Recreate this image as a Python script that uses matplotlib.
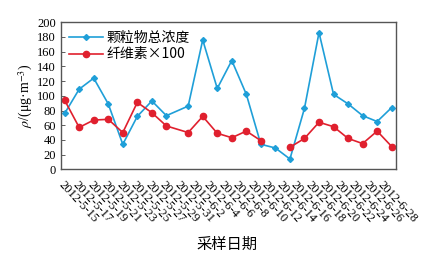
import matplotlib
matplotlib.use("Agg")
import matplotlib.pyplot as plt
import numpy as np
import pandas as pd

# sampling dates (gap between 5-29 and 6-1)
dates = ["2012-05-15", "2012-05-17", "2012-05-19", "2012-05-21", "2012-05-23",
         "2012-05-25", "2012-05-27", "2012-05-29", "2012-06-01", "2012-06-03",
         "2012-06-05", "2012-06-07", "2012-06-09", "2012-06-11", "2012-06-13",
         "2012-06-15", "2012-06-17", "2012-06-19", "2012-06-21", "2012-06-23",
         "2012-06-25", "2012-06-27", "2012-06-29"]
particles = [76, 109, 124, 89, 34, 72, 93, 73, 86, 176, 110, 148, 102, 34,
             29, 14, 83, 186, 102, 89, 73, 65, 84]
cellulose = [94, 57, 67, 68, 50, 91, 77, 59, 50, 72, 49, 43, 52, 39,
             np.nan, 30, 42, 64, 58, 42, 35, 52, 31]
tick_dates = pd.date_range("2012-05-15", "2012-06-28", freq="2D")
tick_labels = [f"{d.year}-{d.month}-{d.day}" for d in tick_dates]

x = pd.to_datetime(dates)

plt.rcParams['font.family'] = ['Liberation Serif', 'Noto Sans CJK SC']
plt.rcParams['mathtext.fontset'] = 'stix'

fig = plt.figure(figsize=(4.37, 2.61), dpi=100)
ax = fig.add_axes([0.1396, 0.3513, 0.7664, 0.5633])

blue = '#1f9fd8'
red = '#e0202e'
ax.plot(x, particles, color=blue, lw=1.2, marker='D', ms=3, label='颗粒物总浓度')
ax.plot(x, cellulose, color=red, lw=1.2, marker='o', ms=4.5, label='纤维素×100')

ax.set_ylim(0, 200)
ax.set_yticks(np.arange(0, 201, 20))
ax.set_xlim(pd.Timestamp("2012-05-14 12:00"), pd.Timestamp("2012-06-29 14:00"))
ax.set_xticks(tick_dates)
ax.set_xticklabels(tick_labels, rotation=-47, ha='left', va='top',
                   rotation_mode='anchor', fontsize=8.5)
ax.tick_params(direction='in', length=3, width=0.6, labelsize=9, colors='#444444')
ax.tick_params(axis='x', length=0, pad=7)
for lbl in ax.get_xticklabels() + ax.get_yticklabels():
    lbl.set_color('black')
for s in ax.spines.values():
    s.set_color('#555555')
    s.set_linewidth(1.0)

ax.set_ylabel(r'$\rho$/(μg·m$^{-3}$)', fontsize=10, labelpad=2)
fig.text(0.52, 0.065, '采样日期', ha='center', va='center', fontsize=11,
         family=['Noto Sans CJK SC'])

leg = ax.legend(loc='upper left', frameon=False, handlelength=2.4,
                handletextpad=0.3, labelspacing=0.2, borderaxespad=0.2,
                prop={'family': ['Noto Sans CJK SC', 'Liberation Serif'], 'size': 10})

fig.savefig('out.png', dpi=100)
